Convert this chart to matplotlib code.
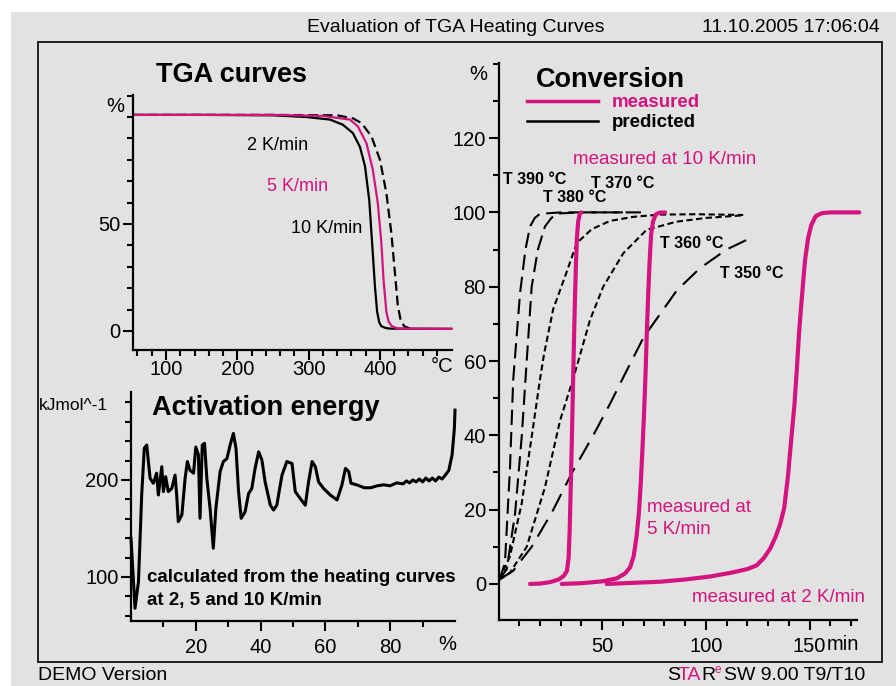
import numpy as np
import matplotlib
matplotlib.use('Agg')
import matplotlib.pyplot as plt
from matplotlib.patches import Rectangle
from matplotlib.lines import Line2D
from matplotlib.ticker import FixedLocator
from matplotlib.font_manager import FontProperties, findfont, get_font

W, H = 896, 686
MAG = '#d4137f'
GREY = '#e2e2e2'
NARROW = ['Liberation Sans Narrow', 'Liberation Sans', 'DejaVu Sans']

plt.rcParams['font.family'] = ['Liberation Sans', 'DejaVu Sans']
plt.rcParams['lines.scale_dashes'] = False

# --- TGA curves: temperature (°C) vs mass (%)
tga2_t = [54, 150, 250, 297, 330, 348, 362, 372, 379, 385, 389, 393, 396, 399, 402, 408, 414, 500]
tga2_m = [101, 101, 100.8, 100, 98.8, 96.4, 92.5, 86, 77, 61, 41, 20.6, 9, 4, 2.2, 1.4, 1.1, 1]
tga5_t = [54, 150, 250, 320, 358, 369, 381, 390, 397, 402, 405, 409, 412, 416, 422, 428, 500]
tga5_m = [101, 101, 101, 100.5, 98.8, 95.6, 87.8, 75.3, 59.7, 41, 23.8, 9, 4.5, 2.4, 1.5, 1.1, 1]
tga10_t = [54, 150, 250, 340, 362, 374, 388, 400, 409, 416, 421, 425, 429, 434, 442]
tga10_m = [101, 101, 101, 100.8, 99.4, 97.2, 91, 80, 64.4, 45.6, 27, 12, 5, 2.2, 1.1]

# --- activation energy (kJ/mol) vs conversion (%)
ea_x = [0, 1.24, 2.3, 3.3, 4.1, 4.85, 5.36, 5.9, 6.9, 7.9, 8.45, 9.5, 10, 10.7, 11.5,
        12.6, 13.6, 14.1, 14.6, 15.7, 16.7, 17.4, 18.2, 19.3, 20, 20.8, 21.3, 22, 22.7,
        23.4, 24.4, 25.4, 26.2, 27.5, 28.5, 29.6, 30.6, 31.6, 32.4, 33.2, 34, 35.2, 36.3,
        37.3, 38.3, 39.4, 40.4, 41.4, 43, 44, 45, 46.6, 48.1, 49.7, 50.7, 52.2, 53.8,
        54.8, 55.9, 56.9, 57.9, 59.4, 61.5, 63.6, 65.1, 66.2, 67.2, 67.9, 69.8, 72,
        74, 76, 78, 80, 82, 84, 85, 86, 87, 88, 89, 90, 91, 92, 93, 94, 95, 96,
        97, 98.1, 99.1, 99.8, 100]
ea_y = [140, 67.7, 95, 184.5, 232.7, 236, 219, 201.7, 196.6, 207, 184.5, 213.7, 188, 203.4, 188,
        191.4, 205, 184.5, 157, 164, 201.7, 219, 210, 207, 234, 226, 160.5, 236, 237.8,
        201.7, 170.8, 129.6, 170.8, 208.6, 219, 222, 236, 248, 232.7, 188, 160.5, 167, 186,
        191.4, 212, 229, 220.6, 198, 174, 169, 174, 205, 219, 217, 188, 181, 174,
        198, 219, 213.7, 198, 191.4, 184.5, 179.4, 194.8, 212, 208.6, 196.6, 194.8, 192,
        192, 194, 195, 194, 197, 196, 199, 197, 200, 198, 201, 198, 202, 199, 202, 199, 203, 201,
        205, 210, 225.8, 253, 272]

# --- conversion (%) vs time (min), measured
m10_x = [15.2, 20, 25, 29, 31.5, 33, 33.8, 34.3, 34.8, 35.3, 35.8, 36.3, 36.8, 37.3, 37.8,
         38.4, 39.2, 40]
m10_y = [0, 0.1, 0.5, 1.2, 2.2, 3.5, 7, 14, 25, 37, 50, 63, 75, 85, 93, 97.5, 99.6, 100]
m5_x = [30.5, 40, 50, 57, 61, 63.5, 65.2, 66.6, 67.7, 68.6, 69.4, 70.2, 71, 71.5, 72.2,
        72.9, 73.6, 74.5, 75.8, 77.5, 80.3]
m5_y = [0, 0.2, 0.7, 1.5, 2.8, 4.5, 7.5, 12.8, 19, 27, 36, 46, 58, 67, 78, 87, 94, 97.5,
        99.4, 99.9, 100]
m2_x = [52.2, 65, 78, 90, 102, 112, 120, 124.5, 128, 131, 133.5, 135.8, 137.8, 139.6,
        141.2, 142.7, 143.8, 145, 146.3, 147.8, 149.3, 150.8, 153, 156, 160, 174]
m2_y = [0, 0.3, 0.6, 1.2, 2, 3, 4, 5, 7, 9.5, 12.5, 16, 20.5, 29, 39, 48, 57, 68, 77, 87,
        93, 96.5, 99, 99.8, 100, 100]

# predicted (isothermal)
p390_x = [0.5, 3.1, 5.5, 7.1, 10.4, 13, 15.2, 17.5, 20, 30, 45, 60]
p390_y = [1.2, 5.6, 30.7, 55, 78.3, 90, 96.2, 98.5, 99.6, 100, 100, 100]
p380_x = [0.5, 4, 8, 11.2, 13.6, 16, 19, 22.4, 25.5, 28.6, 40, 55, 70]
p380_y = [1.2, 4, 19, 39.6, 60, 80, 90, 96.2, 98.5, 99.7, 100, 100, 100]
p370_x = [0.5, 5.5, 11.2, 16, 20, 22, 26.4, 32.9, 37.7, 45, 53.8, 65, 77.9, 95, 118]
p370_y = [1.2, 7.4, 21.7, 39.6, 55, 62, 74, 84, 91.7, 95.5, 97.7, 98.8, 99.4, 99.5, 99.3]
p360_x = [0.5, 5.5, 13.6, 22.4, 29.7, 35.3, 38.5, 44.1, 50.5, 60.2, 71.4, 85.9, 100, 118]
p360_y = [1.2, 3, 10, 26, 44, 54, 60, 71, 80, 89, 95.3, 97.5, 98.5, 99.2]
p350_x = [0.5, 7, 16, 26, 35.5, 45.7, 53.8, 61.8, 70, 77.9, 86, 97.2, 110, 119.7]
p350_y = [1.2, 3.5, 10, 19.5, 30, 40, 48.5, 57.4, 66.4, 72.6, 79, 85, 90, 92.6]

fig = plt.figure(figsize=(W / 100, H / 100), dpi=100)
fig.patch.set_facecolor('white')
fig.patches.append(Rectangle((11 / W, 0), 1, 1 - 12 / H, transform=fig.transFigure,
                             facecolor=GREY, edgecolor='none', zorder=-10))
fig.patches.append(Rectangle((38 / W, 1 - 662 / H), (882 - 38) / W, (662 - 42) / H,
                             transform=fig.transFigure, facecolor='none',
                             edgecolor='black', lw=1.2, zorder=-5))


def rect(l, t, r, b):
    return [l / W, 1 - b / H, (r - l) / W, (b - t) / H]


def ftext(x, y, s, **kw):
    kw.setdefault('va', 'center')
    return fig.text(x / W, 1 - y / H, s, **kw)


def style(ax, pad_x=3):
    ax.set_facecolor('none')
    for s in ['top', 'right']:
        ax.spines[s].set_visible(False)
    for s in ['left', 'bottom']:
        ax.spines[s].set_linewidth(1.6)
    ax.tick_params(which='both', direction='out', width=1.5, labelsize=14.5)
    ax.tick_params(which='major', length=7)
    ax.tick_params(which='minor', length=4.5)
    ax.tick_params(axis='y', pad=2)
    ax.tick_params(axis='x', pad=pad_x)


def narrow_labels(ax):
    for lab in ax.get_xticklabels() + ax.get_yticklabels():
        lab.set_fontfamily(NARROW)


# TGA panel
ax1 = fig.add_axes(rect(133, 95, 452, 350))
style(ax1, pad_x=0)
ax1.plot(tga2_t, tga2_m, color='black', lw=1.6, clip_on=False)
ax1.plot(tga10_t, tga10_m, color='black', lw=1.6, dashes=(7, 3.5), clip_on=False)
ax1.plot(tga5_t, tga5_m, color=MAG, lw=1.6, clip_on=False)
ax1.set_xlim(53.7, 501)
ax1.set_ylim(-8.9, 110.3)
ax1.xaxis.set_major_locator(FixedLocator([100, 200, 300, 400]))
ax1.xaxis.set_minor_locator(FixedLocator(list(range(60, 500, 20))))
ax1.yaxis.set_major_locator(FixedLocator([0, 50]))
ax1.yaxis.set_minor_locator(FixedLocator(list(range(10, 111, 10))))
narrow_labels(ax1)
ftext(442, 366, '°C', ha='center', fontsize=14.5, family=NARROW)
ftext(115, 107, '%', ha='center', fontsize=14.5, family=NARROW)
ftext(231, 75, 'TGA curves', ha='center', fontsize=19.5, fontweight='bold')
ftext(278, 146, '2 K/min', ha='center', fontsize=13)
ftext(298, 186, '5 K/min', ha='center', fontsize=13, color=MAG)
ftext(327, 229, '10 K/min', ha='center', fontsize=13)

# Activation energy panel
ax2 = fig.add_axes(rect(131, 392, 455, 621))
style(ax2, pad_x=5)
ax2.plot(ea_x, ea_y, color='black', lw=2.2, clip_on=False)
ax2.set_xlim(0, 100)
ax2.set_ylim(54.6, 290.7)
ax2.xaxis.set_major_locator(FixedLocator([20, 40, 60, 80]))
ax2.xaxis.set_minor_locator(FixedLocator([10, 30, 50, 70, 90]))
ax2.yaxis.set_major_locator(FixedLocator([100, 200]))
ax2.yaxis.set_minor_locator(FixedLocator(list(range(60, 290, 20))))
narrow_labels(ax2)
ftext(447, 645, '%', ha='center', fontsize=14.5, family=NARROW)
ftext(108, 405, 'kJmol^-1', ha='right', fontsize=12.5)
ftext(152, 408, 'Activation energy', ha='left', fontsize=19.5, fontweight='bold')
ftext(147, 577, 'calculated from the heating curves', ha='left', fontsize=13.5,
      fontweight='bold')
ftext(147, 600, 'at 2, 5 and 10 K/min', ha='left', fontsize=13.5, fontweight='bold')

# Conversion panel
ax3 = fig.add_axes(rect(498.5, 63, 857, 620))
style(ax3, pad_x=5)
ax3.plot(p390_x, p390_y, color='black', lw=1.5, dashes=(11, 5), clip_on=False)
ax3.plot(p380_x, p380_y, color='black', lw=1.5, dashes=(11, 5), clip_on=False)
ax3.plot(p370_x, p370_y, color='black', lw=1.5, dashes=(4.5, 2.5), clip_on=False)
ax3.plot(p360_x, p360_y, color='black', lw=1.5, dashes=(4.5, 2.5), clip_on=False)
ax3.plot(p350_x, p350_y, color='black', lw=1.5, dashes=(14, 7), clip_on=False)
for mx, my in [(m10_x, m10_y), (m5_x, m5_y), (m2_x, m2_y)]:
    ax3.plot(mx, my, color=MAG, lw=3, clip_on=False, solid_capstyle='round',
             solid_joinstyle='round')
ax3.set_xlim(0, 172.9)
ax3.set_ylim(-9.7, 140.2)
ax3.xaxis.set_major_locator(FixedLocator([50, 100, 150]))
ax3.xaxis.set_minor_locator(FixedLocator([10, 20, 30, 40, 60, 70, 80, 90, 110, 120, 130,
                                          140, 160, 170]))
ax3.yaxis.set_major_locator(FixedLocator([0, 20, 40, 60, 80, 100, 120]))
ax3.yaxis.set_minor_locator(FixedLocator(list(range(-10, 141, 10))))
narrow_labels(ax3)
ftext(843, 645, 'min', ha='center', fontsize=14.5, family=NARROW)
ftext(478, 75, '%', ha='center', fontsize=14.5, family=NARROW)
ftext(610, 80, 'Conversion', ha='center', fontsize=19.5, fontweight='bold')
handles = [Line2D([], [], color=MAG, lw=2.5), Line2D([], [], color='black', lw=1.8)]
leg = ax3.legend(handles, ['measured', 'predicted'], loc='upper left',
                 bbox_to_anchor=(527 / W, 1 - 94 / H), bbox_transform=fig.transFigure,
                 frameon=False, borderpad=0, borderaxespad=0, handlelength=3.8,
                 handletextpad=0.7, labelspacing=0.15,
                 prop={'size': 13.5, 'weight': 'bold'})
leg.get_texts()[0].set_color(MAG)
ftext(665, 160, 'measured at 10 K/min', ha='center', fontsize=13.5, color=MAG)
ftext(535, 180, 'T 390 °C', ha='center', fontsize=11.5, fontweight='bold')
ftext(575, 198, 'T 380 °C', ha='center', fontsize=11.5, fontweight='bold')
ftext(623, 183, 'T 370 °C', ha='center', fontsize=11.5, fontweight='bold')
ftext(692, 243, 'T 360 °C', ha='center', fontsize=11.5, fontweight='bold')
ftext(752, 273, 'T 350 °C', ha='center', fontsize=11.5, fontweight='bold')
ftext(647, 507, 'measured at', ha='left', fontsize=13.5, color=MAG)
ftext(647, 529, '5 K/min', ha='left', fontsize=13.5, color=MAG)
ftext(778, 598, 'measured at 2 K/min', ha='center', fontsize=13.5, color=MAG)

# header / footer
ftext(456, 27, 'Evaluation of TGA Heating Curves', ha='center', fontsize=14)
ftext(880, 27, '11.10.2005 17:06:04', ha='right', fontsize=14)
ftext(38, 676, 'DEMO Version', ha='left', fontsize=14)

# STARe logo: letters placed from glyph advances
ft = get_font(findfont(FontProperties(family='Liberation Sans')))
ft.set_size(14, 100)


def glyph(c):
    g = ft.load_char(ord(c))
    return g.linearHoriAdvance / 65536.0, g.horiBearingX / 64.0


try:
    from matplotlib.ft2font import Kerning
    kmode = Kerning.DEFAULT
except ImportError:
    from matplotlib.ft2font import KERNING_DEFAULT as kmode
try:
    kern_ta = ft.get_kerning(ft.get_char_index(ord('T')), ft.get_char_index(ord('A')),
                             kmode) / 64.0
except Exception:
    kern_ta = 0.0

tight = 1.3
o = 666.0
adv_s, lsb_s = glyph('S')
adv_t, lsb_t = glyph('T')
adv_a, _ = glyph('A')
adv_r, lsb_r = glyph('R')
ftext(o + lsb_s, 676, 'S', ha='left', fontsize=14)
o_t = o + adv_s - tight
ftext(o_t + lsb_t, 676, 'TA', ha='left', fontsize=14, color=MAG)
o_r = o_t + adv_t + kern_ta + adv_a - tight
ftext(o_r + lsb_r, 676, 'R', ha='left', fontsize=14)
xe = o_r + adv_r + 1
ftext(xe, 670, 'e', ha='left', fontsize=8.5, color=MAG)
ftext(xe + 9, 676, 'SW 9.00 T9/T10', ha='left', fontsize=14)

fig.savefig('out.png', dpi=100, facecolor=fig.get_facecolor())
